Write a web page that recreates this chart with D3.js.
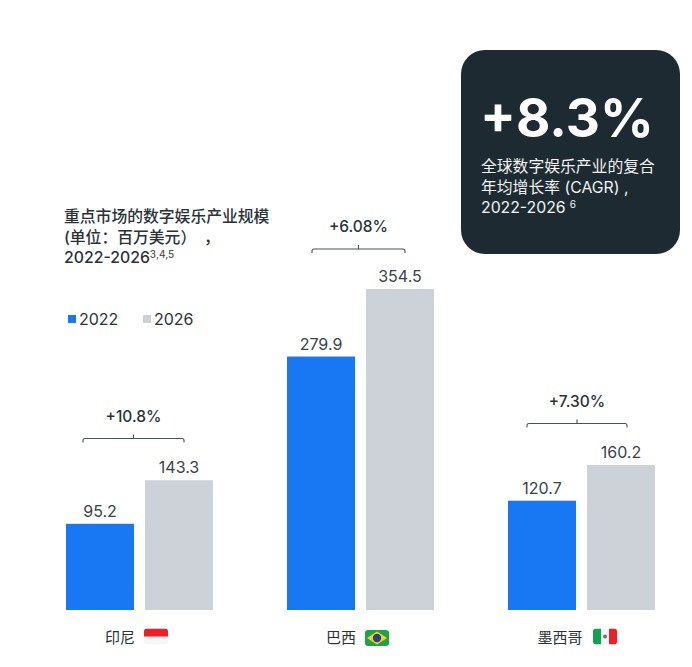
<!DOCTYPE html>
<html><head><meta charset="utf-8">
<script src="https://cdnjs.cloudflare.com/ajax/libs/d3/7.8.5/d3.min.js"></script>
<style>
html,body{margin:0;padding:0;background:#fff}
svg{display:block}
text{font-family:Inter,"Noto Sans CJK SC",sans-serif}
</style></head><body>
<svg id="c" width="692" height="667"></svg>
<script>
const markets=["印尼","巴西","墨西哥"];
const years=["2022","2026"];
const values2022=[95.2,279.9,120.7];
const values2026=[143.3,354.5,160.2];
const growth=["+10.8%","+6.08%","+7.30%"];
const titleLines=["重点市场的数字娱乐产业规模","(单位：百万美元）\u2002，","2022-2026"];
const titleSup="3,4,5";
const kpi="+8.3%";
const kpiLines=["全球数字娱乐产业的复合","年均增长率 (CAGR) ,","2022-2026"];
const kpiSup="6";
const colors=["#1877f2","#ccd2d8"];
const ink="#2a3238";

const svg=d3.select("#c");
const x0=d3.scaleBand().domain(markets).range([66,655]).paddingInner(74/221).paddingOuter(0);
const x1=d3.scaleBand().domain(years).range([0,x0.bandwidth()]).paddingInner(11/79);
const y=d3.scaleLinear().domain([0,354.5]).range([610,289]);

const bracketY=[438.5,249,423.5], bracketL=[17,25,19], bracketR=[118,118,119];
const g=svg.selectAll("g.m").data(markets).join("g").attr("class","m")
  .attr("transform",d=>`translate(${x0(d)},0)`);
const rows=(i)=>[{y:years[0],v:values2022[i],c:colors[0]},{y:years[1],v:values2026[i],c:colors[1]}];
g.each(function(m,i){
  const s=d3.select(this),r=rows(i);
  s.selectAll("rect").data(r).join("rect")
    .attr("x",d=>x1(d.y)).attr("y",d=>y(d.v))
    .attr("width",x1.bandwidth()).attr("height",d=>610-y(d.v)).attr("fill",d=>d.c);
  s.selectAll("text.v").data(r).join("text").attr("class","v")
    .attr("x",d=>x1(d.y)+x1.bandwidth()/2).attr("y",d=>y(d.v)-7)
    .attr("text-anchor","middle").attr("font-size",16).attr("fill","#3a4248").text(d=>d.v.toFixed(1));
  const top=bracketY[i], a=bracketL[i], b=bracketR[i];
  s.append("path").attr("fill","none").attr("stroke","#4a5157").attr("stroke-width",1.1)
    .attr("d",`M${a},${top+4}v-2q0,-2 2,-2H${b-2}q2,0 2,2v2M${(a+b)/2},${top}v-4`);
  s.append("text").attr("x",(a+b)/2).attr("y",top-17).attr("text-anchor","middle")
    .attr("font-size",15.5).attr("font-weight",500).attr("fill",ink).text(growth[i]);
});

const labelY=643, flagW=24, flagH=16;
const labelX=[120,341,560], flagX=[144,365,593], flagY=[628.5,630,628.5];
markets.forEach((m,i)=>{
  svg.append("text").attr("x",labelX[i]).attr("y",labelY).attr("text-anchor","middle")
    .attr("font-size",15).attr("fill",ink).text(m);
  const f=svg.append("g").attr("transform",`translate(${flagX[i]},${flagY[i]})`);
  const id="clip"+i;
  f.append("clipPath").attr("id",id).append("rect").attr("width",flagW).attr("height",flagH).attr("rx",3);
  const c=f.append("g").attr("clip-path",`url(#${id})`);
  if(i===0){
    c.append("rect").attr("width",flagW).attr("height",flagH).attr("fill","#f6f6f6");
    c.append("rect").attr("width",flagW).attr("height",flagH/2).attr("fill","#ee2027");
  }else if(i===1){
    c.append("rect").attr("width",flagW).attr("height",flagH).attr("fill","#1fa34a");
    c.append("path").attr("d",`M${flagW/2},1.5L${flagW-2},${flagH/2}L${flagW/2},${flagH-1.5}L2,${flagH/2}Z`).attr("fill","#fcd116");
    c.append("circle").attr("cx",flagW/2).attr("cy",flagH/2).attr("r",4.2).attr("fill","#27408b");
  }else{
    c.append("rect").attr("width",flagW/3).attr("height",flagH).attr("fill","#12a150");
    c.append("rect").attr("x",flagW/3).attr("width",flagW/3).attr("height",flagH).attr("fill","#f5f5f5");
    c.append("rect").attr("x",2*flagW/3).attr("width",flagW/3).attr("height",flagH).attr("fill","#ee2027");
    c.append("circle").attr("cx",flagW/2).attr("cy",flagH/2).attr("r",2).attr("fill","#7d7460");
  }
});

const tt=svg.append("text").attr("font-size",15.8).attr("font-weight",500).attr("fill",ink);
titleLines.forEach((t,i)=>tt.append("tspan").attr("x",64).attr("y",222+i*20.5).text(t));
tt.append("tspan").attr("dy",-5).attr("font-size",10).attr("fill","#555").text(titleSup);

const lx=[68,143];
years.forEach((yr,i)=>{
  svg.append("rect").attr("x",lx[i]).attr("y",315).attr("width",8).attr("height",8).attr("fill",colors[i]);
  svg.append("text").attr("x",lx[i]+11).attr("y",324.5).attr("font-size",16).attr("fill",ink).text(yr);
});

svg.append("rect").attr("x",461).attr("y",50).attr("width",219).attr("height",204).attr("rx",24).attr("fill","#1e2a32");
svg.append("text").attr("x",480).attr("y",137).attr("font-size",53).attr("font-weight",700).attr("fill","#fff").text(kpi);
const kt=svg.append("text").attr("font-size",15.8).attr("fill","#f0f2f3");
kpiLines.forEach((t,i)=>kt.append("tspan").attr("x",481).attr("y",172+i*20.5).text(t));
kt.append("tspan").attr("dx",4).attr("dy",-5).attr("font-size",10).text(kpiSup);
</script>
</body></html>
